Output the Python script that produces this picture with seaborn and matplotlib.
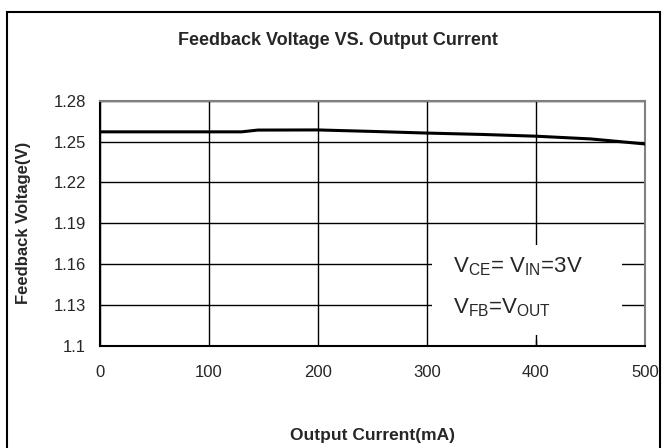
import matplotlib
matplotlib.use('Agg')
import matplotlib.pyplot as plt
import matplotlib.patches as patches
import seaborn as sns
import pandas as pd

# data
current_ma = [0, 50, 100, 130, 145, 200, 250, 300, 350, 400, 450, 500]
feedback_v = [1.2572, 1.2572, 1.2572, 1.2572, 1.2585, 1.2586, 1.2575, 1.2563, 1.2553, 1.2540, 1.2520, 1.2483]
x_ticks = [0, 100, 200, 300, 400, 500]
y_ticks = [1.1, 1.13, 1.16, 1.19, 1.22, 1.25, 1.28]
y_tick_labels = ['1.1', '1.13', '1.16', '1.19', '1.22', '1.25', '1.28']

df = pd.DataFrame({'Output Current(mA)': current_ma, 'Feedback Voltage(V)': feedback_v})

sns.set_style('white')
plt.rcParams['font.family'] = ['Liberation Sans', 'DejaVu Sans']
plt.rcParams['mathtext.fontset'] = 'custom'
plt.rcParams['mathtext.rm'] = 'Liberation Sans'
plt.rcParams['mathtext.it'] = 'Liberation Sans'

fig = plt.figure(figsize=(6.65, 4.48), dpi=100)
ax = fig.add_axes([0.150, 0.228, 0.820, 0.547])

sns.lineplot(data=df, x='Output Current(mA)', y='Feedback Voltage(V)', color='black', linewidth=2.2, ax=ax, zorder=5)

ax.set_xlim(0, 500)
ax.set_ylim(1.1, 1.28)
ax.set_xticks(x_ticks)
ax.set_yticks(y_ticks)
ax.set_yticklabels(y_tick_labels)
ax.tick_params(axis='both', labelsize=12, length=0)
ax.tick_params(axis='x', pad=14)
ax.tick_params(axis='y', pad=10)
ax.grid(True, color='black', linewidth=1)
ax.set_axisbelow(True)
for side in ['left', 'bottom']:
    ax.spines[side].set_color('black')
    ax.spines[side].set_linewidth(1.5)
for side in ['top', 'right']:
    ax.spines[side].set_color('#808080')
    ax.spines[side].set_linewidth(1.5)

ax.set_xlabel('Output Current(mA)', fontsize=12.5, fontweight='bold', labelpad=34)
ax.set_ylabel('Feedback Voltage(V)', fontsize=12, fontweight='bold', labelpad=16)

# white box behind the condition note (hides the grid there)
ax.add_patch(patches.Rectangle((305, 1.108), 174, 0.066, facecolor='white', edgecolor='none', zorder=3))
ax.text(0.647, 0.322, r'$\mathregular{V_{CE}}$= $\mathregular{V_{IN}}$=3V', transform=ax.transAxes,
        fontsize=16, va='center', ha='left', zorder=6)
ax.text(0.647, 0.155, r'$\mathregular{V_{FB}}$=$\mathregular{V_{OUT}}$', transform=ax.transAxes,
        fontsize=16, va='center', ha='left', zorder=6)
ax.plot([400, 400], [1.1, 1.104], color='black', linewidth=1, zorder=6)

fig.text(0.508, 0.91, 'Feedback Voltage VS. Output Current', fontsize=13, fontweight='bold', ha='center', va='center')

fig.patches.append(patches.Rectangle((0.011, -0.01), 0.982, 0.983, transform=fig.transFigure,
                                     fill=False, edgecolor='black', linewidth=1.5))

fig.savefig('out.png', dpi=100)
